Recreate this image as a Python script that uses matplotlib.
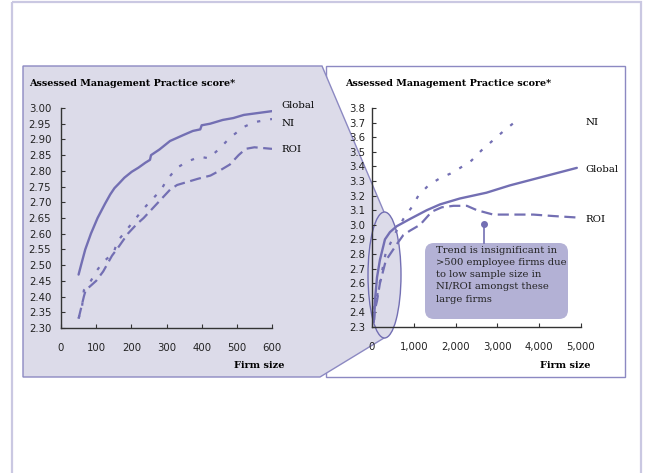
import matplotlib
matplotlib.use("Agg")
import matplotlib.pyplot as plt
from matplotlib.patches import Polygon, Ellipse, FancyBboxPatch, Rectangle
from matplotlib.ticker import FuncFormatter

# ---------------- data ----------------
left_global_x = [50, 57, 69, 85, 104, 125, 140, 152, 165, 180, 201, 220, 240, 253, 256, 280, 310, 330, 350, 375, 396, 400, 424, 460, 490, 520, 560, 600]
left_global_y = [2.47, 2.50, 2.55, 2.60, 2.65, 2.695, 2.725, 2.745, 2.76, 2.778, 2.797, 2.81, 2.826, 2.835, 2.85, 2.868, 2.895, 2.905, 2.915, 2.927, 2.932, 2.945, 2.95, 2.962, 2.968, 2.978, 2.984, 2.99]

left_ni_x = [50, 60, 65, 80, 100, 120, 150, 160, 185, 210, 235, 260, 285, 300, 330, 360, 395, 420, 450, 480, 520, 550, 600]
left_ni_y = [2.33, 2.37, 2.42, 2.44, 2.48, 2.51, 2.54, 2.575, 2.61, 2.645, 2.68, 2.71, 2.74, 2.77, 2.81, 2.83, 2.845, 2.84, 2.87, 2.905, 2.94, 2.955, 2.965]

left_roi_x = [50, 65, 70, 100, 120, 145, 165, 190, 215, 235, 260, 285, 310, 330, 360, 390, 425, 450, 480, 505, 525, 550, 600]
left_roi_y = [2.33, 2.40, 2.42, 2.45, 2.48, 2.53, 2.56, 2.60, 2.63, 2.65, 2.68, 2.71, 2.74, 2.755, 2.765, 2.775, 2.785, 2.80, 2.82, 2.85, 2.87, 2.875, 2.87]

right_global_x = [50, 70, 120, 190, 310, 430, 590, 910, 1310, 1630, 2100, 2740, 3300, 4100, 4900]
right_global_y = [2.35, 2.48, 2.64, 2.76, 2.90, 2.95, 2.99, 3.04, 3.10, 3.14, 3.18, 3.22, 3.27, 3.33, 3.39]

right_ni_x = [40, 60, 100, 190, 330, 600, 750, 950, 1110, 1350, 1630, 1870, 2110, 2380, 2620, 2860, 3140, 3400]
right_ni_y = [2.33, 2.45, 2.48, 2.61, 2.81, 2.965, 3.04, 3.12, 3.20, 3.27, 3.32, 3.35, 3.39, 3.44, 3.51, 3.57, 3.64, 3.70]

right_roi_x = [40, 70, 120, 190, 330, 600, 750, 910, 1150, 1430, 1670, 1950, 2270, 2510, 2900, 3300, 3860, 4340, 4900]
right_roi_y = [2.33, 2.42, 2.48, 2.60, 2.755, 2.87, 2.93, 2.96, 3.00, 3.09, 3.12, 3.13, 3.13, 3.10, 3.07, 3.07, 3.07, 3.06, 3.05]

left_yticks = [2.30, 2.35, 2.40, 2.45, 2.50, 2.55, 2.60, 2.65, 2.70, 2.75, 2.80, 2.85, 2.90, 2.95, 3.00]
left_xticks = [0, 100, 200, 300, 400, 500, 600]
right_yticks = [2.3, 2.4, 2.5, 2.6, 2.7, 2.8, 2.9, 3.0, 3.1, 3.2, 3.3, 3.4, 3.5, 3.6, 3.7, 3.8]
right_xticks = [0, 1000, 2000, 3000, 4000, 5000]

title_text = "Assessed Management Practice score*"
xlabel_text = "Firm size"
note_text = "Trend is insignificant in\n>500 employee firms due\nto low sample size in\nNI/ROI amongst these\nlarge firms"

# ---------------- style ----------------
W, H = 646, 473
LINE = "#736fb3"
FILL = "#dcdbe9"
BORDER = "#8c89c2"
OUTER = "#cac8e2"
BOX = "#b3b1d5"
SERIF = ["DejaVu Serif"]
SANS = ["DejaVu Sans"]
TICK_FS = 7.3

fig = plt.figure(figsize=(W / 100, H / 100), dpi=100)
fig.patch.set_facecolor("white")

bg = fig.add_axes([0, 0, 1, 1], zorder=0)
bg.set_xlim(0, W)
bg.set_ylim(H, 0)
bg.axis("off")

# outer frame
bg.add_patch(Rectangle((12, 2.5), 629, 480, fill=False, edgecolor=OUTER, lw=1.6))
# right panel
bg.add_patch(Rectangle((326, 66), 299, 311, facecolor="white", edgecolor=BORDER, lw=1.0, zorder=1))
# left panel + zoom cone
cone = Polygon([(23, 66), (322, 66), (384, 212), (384, 338), (320, 377), (23, 377)],
               closed=True, facecolor=FILL, edgecolor=BORDER, lw=1.0, zorder=2)
bg.add_patch(cone)
bg.add_patch(Ellipse((384.5, 275), 33, 126, facecolor=FILL, edgecolor=LINE, lw=1.0, zorder=3))

# annotation box
bg.add_patch(FancyBboxPatch((425, 243), 143, 76, boxstyle="round,pad=0,rounding_size=9",
                            facecolor=BOX, edgecolor="none", zorder=3))
bg.plot([484, 484], [224, 243], color=LINE, lw=1.2, zorder=3)
bg.plot([484], [224], "o", color=LINE, ms=4, zorder=3)
bg.text(436, 246, note_text, fontsize=7.2, family=SERIF, color="#222222", va="top", ha="left",
        linespacing=1.45, zorder=4)

# titles / labels in pixel space
bg.text(29, 84, title_text, fontsize=6.9, family=SERIF, fontweight="bold", va="center", ha="left", zorder=4)
bg.text(345, 84, title_text, fontsize=6.9, family=SERIF, fontweight="bold", va="center", ha="left", zorder=4)
bg.text(284, 365, xlabel_text, fontsize=7.0, family=SERIF, fontweight="bold", va="center", ha="right", zorder=4)
bg.text(591, 365, xlabel_text, fontsize=7.0, family=SERIF, fontweight="bold", va="center", ha="right", zorder=4)

for lbl, y in [("Global", 105), ("NI", 123), ("ROI", 149)]:
    bg.text(281, y, lbl, fontsize=7.3, family=SERIF, va="center", ha="left", zorder=4)
for lbl, y in [("NI", 122), ("Global", 169), ("ROI", 219)]:
    bg.text(585, y, lbl, fontsize=7.3, family=SERIF, va="center", ha="left", zorder=4)


def make_axes(x0, x1, ytop, ybot, xlim, ylim):
    ax = fig.add_axes([x0 / W, (H - ybot) / H, (x1 - x0) / W, (ybot - ytop) / H], zorder=2)
    ax.set_facecolor("none")
    ax.set_xlim(*xlim)
    ax.set_ylim(*ylim)
    for s in ["top", "right"]:
        ax.spines[s].set_visible(False)
    for s in ["left", "bottom"]:
        ax.spines[s].set_color("#333333")
        ax.spines[s].set_linewidth(1.0)
    ax.tick_params(direction="in", length=3, width=0.8, color="#333333",
                   labelsize=TICK_FS, labelcolor="#222222", pad=7)
    return ax


axL = make_axes(61, 272, 108, 328, (0, 600), (2.30, 3.00))
axL.set_yticks(left_yticks)
axL.set_xticks(left_xticks)
axL.yaxis.set_major_formatter(FuncFormatter(lambda v, p: f"{v:.2f}"))
axL.tick_params(axis="x", pad=11)
axL.plot(left_global_x, left_global_y, color=LINE, lw=1.7, solid_capstyle="round")
axL.plot(left_ni_x, left_ni_y, color=LINE, lw=1.6, dashes=(1.5, 4.5))
axL.plot(left_roi_x, left_roi_y, color=LINE, lw=1.6, dashes=(5, 2.5))

axR = make_axes(372, 581, 108, 327, (0, 5000), (2.3, 3.8))
axR.set_yticks(right_yticks)
axR.set_xticks(right_xticks)
axR.yaxis.set_major_formatter(FuncFormatter(lambda v, p: f"{v:.1f}"))
axR.xaxis.set_major_formatter(FuncFormatter(lambda v, p: f"{int(v):,}"))
axR.tick_params(axis="x", pad=11)
axR.tick_params(axis="y", pad=5)
axR.plot(right_global_x, right_global_y, color=LINE, lw=1.7, solid_capstyle="round")
axR.plot(right_ni_x, right_ni_y, color=LINE, lw=1.6, dashes=(1.5, 4.5))
axR.plot(right_roi_x, right_roi_y, color=LINE, lw=1.6, dashes=(5, 2.5))

for ax in (axL, axR):
    for t in ax.get_xticklabels() + ax.get_yticklabels():
        t.set_family(SANS)

fig.savefig("out.png", dpi=100, facecolor="white")
